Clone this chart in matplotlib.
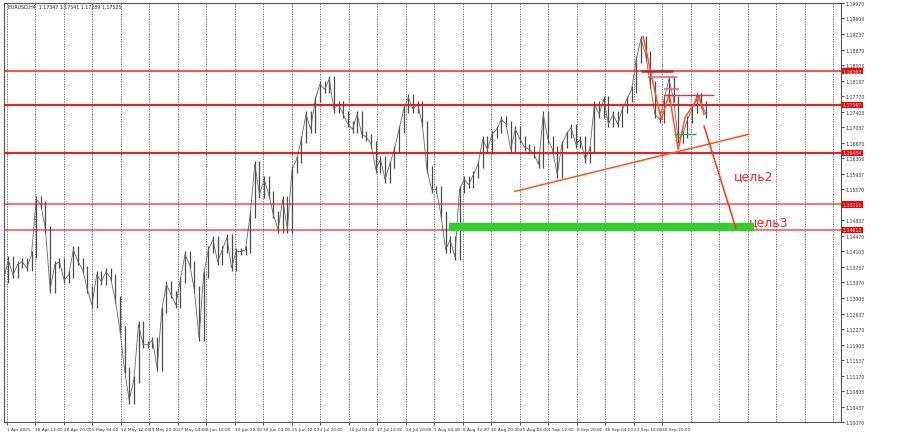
import matplotlib
matplotlib.use("Agg")
import matplotlib.pyplot as plt
import numpy as np

# EURUSD H4 closes (evenly spaced)
closes = [
    1.1343, 1.1391, 1.1355, 1.1379, 1.1386, 1.1372, 1.1403, 1.1533, 1.1521, 1.1462,
    1.1320, 1.1379, 1.1386, 1.1343, 1.1355, 1.1414, 1.1386, 1.1367, 1.1320, 1.1284,
    1.1355, 1.1339, 1.1362, 1.1348, 1.1296, 1.1225, 1.1130, 1.1059, 1.1107, 1.1237,
    1.1190, 1.1190, 1.1201, 1.1135, 1.1272, 1.1332, 1.1308, 1.1284, 1.1343, 1.1403,
    1.1379, 1.1320, 1.1206, 1.1355, 1.1414, 1.1438, 1.1386, 1.1414, 1.1443, 1.1372,
    1.1410, 1.1410, 1.1414, 1.1497, 1.1616, 1.1545, 1.1580, 1.1545, 1.1497, 1.1462,
    1.1533, 1.1462, 1.1604, 1.1628, 1.1675, 1.1734, 1.1699, 1.1770, 1.1805, 1.1793,
    1.1817, 1.1746, 1.1758, 1.1734, 1.1711, 1.1699, 1.1734, 1.1687, 1.1680, 1.1663,
    1.1604, 1.1628, 1.1580, 1.1616, 1.1651, 1.1699, 1.1746, 1.1774, 1.1746, 1.1758,
    1.1711, 1.1604, 1.1557, 1.1557, 1.1497, 1.1414, 1.1438,
    1.1398, 1.1557, 1.1580, 1.1568, 1.1592, 1.1616, 1.1675, 1.1651, 1.1687, 1.1699,
    1.1722, 1.1711, 1.1651, 1.1699, 1.1675, 1.1656, 1.1651, 1.1640, 1.1616, 1.1734,
    1.1675, 1.1651, 1.1592, 1.1663, 1.1687, 1.1703, 1.1663, 1.1675, 1.1628, 1.1651,
    1.1758, 1.1734, 1.1770, 1.1711, 1.1734, 1.1711, 1.1746, 1.1770, 1.1793, 1.1864,
    1.1912, 1.1876, 1.1805, 1.1734, 1.1722, 1.1770, 1.1817, 1.1770, 1.1675, 1.1687,
    1.1722, 1.1746, 1.1777, 1.1758, 1.1734,
]

date_labels = [
    "1 Apr 2025", "18 Apr 12:00", "28 Apr 20:00", "5 May 04:00", "12 May 12:00",
    "19 May 20:00", "27 May 04:00", "3 Jun 12:00", "10 Jun 20:00", "18 Jun 04:00",
    "25 Jun 12:00", "2 Jul 20:00", "10 Jul 04:00", "17 Jul 12:00", "24 Jul 20:00",
    "1 Aug 04:00", "8 Aug 12:00", "15 Aug 20:00", "25 Aug 04:00", "1 Sep 12:00",
    "8 Sep 20:00", "16 Sep 04:00", "23 Sep 12:00", "30 Sep 20:00",
]

levels = [1.18363, 1.17567, 1.16434, 1.15211, 1.14612]
level_alpha = [0.75, 1.0, 1.0, 0.6, 0.6]

# hand-drawn analysis marks (x in chart pixels, y in price)
trend_x = [513, 748]
trend_y = [1.1552, 1.1687]
zig_x = [642, 652, 660, 668, 677, 684, 698, 703]
zig_y = [1.1917, 1.1805, 1.1722, 1.1782, 1.1651, 1.1727, 1.1777, 1.1734]
target_x = [703, 735]
target_y = [1.1706, 1.1464]
zone_x = [447, 752]
zone_y = [1.1462, 1.1477]

y_min, y_max = 1.10070, 1.19970
step = 705 / (len(closes) - 1)
x = np.arange(len(closes)) * step
c = np.array(closes)
o = np.r_[c[0], c[:-1]]

fig = plt.figure(figsize=(9, 4.39), dpi=100)
ax = fig.add_axes([0.004, 0.036, 0.93, 0.955])
ax.set_xlim(0, 840)
ax.set_ylim(y_min, y_max)

# vertical dotted grid
grid_x = np.arange(3, 840, 28.6)
for gx in grid_x:
    ax.axvline(gx, color="#555555", lw=0.6, ls=(0, (1.5, 1.5)), zorder=0)

# price bars
ax.vlines(x, np.minimum(o, c) - 0.0008, np.maximum(o, c) + 0.0008, color="#4a4a4a", lw=0.9, zorder=2)
ax.plot(x, c, color="#666666", lw=0.6, zorder=2)

for lv, a in zip(levels, level_alpha):
    ax.axhline(lv, color="red", lw=1.3, alpha=a, zorder=3)
    ax.text(1.0025, lv, f"{lv:.5f}", transform=ax.get_yaxis_transform(), fontsize=3.3,
            color="white", va="center", ha="left",
            bbox=dict(boxstyle="square,pad=0.15", fc="red", ec="none"), zorder=5, clip_on=False)

ax.fill_between(zone_x, zone_y[0], zone_y[1], color="#33cc33", zorder=4)
ax.plot(trend_x, trend_y, color="#ff5020", lw=1.1, zorder=4)
ax.plot(zig_x, zig_y, color="#ff5020", lw=1.1, zorder=4)
ax.plot(target_x, target_y, color="#ff3020", lw=1.1, zorder=4)
ax.hlines([1.1836, 1.1822, 1.1793, 1.1779], [640, 647, 663, 662], [672, 676, 678, 713],
          colors=["#cc2222", "#ee6688", "#ee6688", "#dd3355"], lw=[1.8, 1.2, 1.2, 1.0], zorder=4)
ax.hlines(1.1687, 673, 695, colors="#22aa44", lw=1.0, zorder=4)
ax.text(733, 1.1590, "цель2", color="#ff2020", fontsize=9, va="center")
ax.text(748, 1.1480, "цель3", color="#ff2020", fontsize=9, va="center")

ax.text(4, 1.1990, "EURUSD,H4  1.17347 1.17541 1.17289 1.17525", fontsize=3.4, va="center", color="#222222")

ax.yaxis.tick_right()
yt = np.linspace(y_min, y_max, 28)
yt = [v for v in yt if min(abs(v - lv) for lv in levels) > 0.0012]
ax.set_yticks(yt)
ax.set_yticklabels([f"{v:.5f}" for v in yt], fontsize=3.3, color="#333333")
ax.set_xticks(grid_x[:len(date_labels)])
ax.set_xticklabels(date_labels, fontsize=3.1, ha="left", color="#333333")
ax.tick_params(length=2, width=0.5, pad=1.5)
for s in ax.spines.values():
    s.set_linewidth(0.8)
    s.set_color("#555555")

fig.savefig("out.png", dpi=100)
